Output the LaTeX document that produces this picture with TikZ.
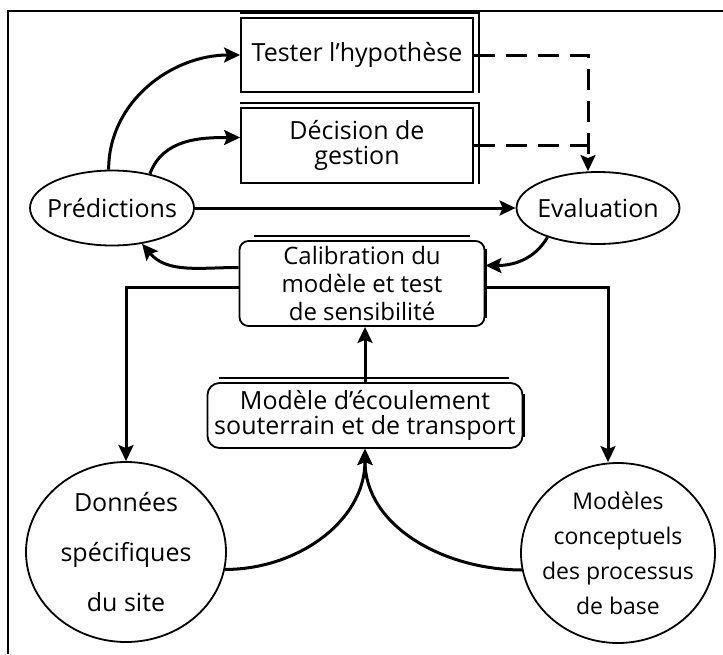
\documentclass[tikz,border=0pt]{standalone}
\usepackage{fontspec}
\setmainfont{Open Sans}
\usetikzlibrary{arrows.meta,shapes.geometric}

\begin{document}
\begin{tikzpicture}[
        x=1pt, y=-1pt,
        >={Stealth[length=16pt, width=15pt, inset=3pt]},
        font=\fontsize{25}{28}\selectfont,
        fleche/.style={->, line width=3pt},
        tiret/.style={line width=3pt, dash pattern=on 21pt off 11pt},
        boite/.style={draw, line width=1.8pt, inner sep=0pt, align=center},
        bulle/.style={draw, ellipse, line width=1.8pt, inner xsep=-40pt, inner ysep=-10pt, align=center}
    ]
    \useasboundingbox (0,0) rectangle (723,654);

    % Cadre
    \draw[line width=1.8pt] (723,11) -- (8,11) -- (8,654);

    % Boites du haut
    \node[boite, minimum width=232pt, minimum height=74pt] (tst) at (357,55) {Tester l'hypothèse};
    \node[boite, minimum width=232pt, minimum height=75pt, font=\fontsize{25}{25}\selectfont] (dec) at (357,145.5) {Décision de\\gestion};

    % Ellipses
    \node[bulle, minimum width=164pt, minimum height=75pt] (pred) at (112,208) {Prédictions};
    \node[bulle, minimum width=163pt, minimum height=72pt] (eval) at (598,208) {Evaluation};

    % Calibration et modele d'ecoulement
    \node[boite, rounded corners=9pt, minimum width=245pt, minimum height=85pt, font=\fontsize{24}{28}\selectfont] (cal) at (362,283.5) {Calibration du\\modèle et test\\de sensibilité};
    \node[boite, rounded corners=12pt, minimum width=315pt, minimum height=65pt, font=\fontsize{25}{25}\selectfont] (ecl) at (365,415.5) {Modèle d'écoulement\\souterrain et de transport};

    % Cercles du bas
    \node[bulle, minimum width=200pt, minimum height=180pt, font=\fontsize{25}{50}\selectfont] (don) at (126,552) {Données\\spécifiques\\du site};
    \node[bulle, minimum width=194pt, minimum height=180pt, font=\fontsize{23}{35}\selectfont] (mcp) at (618,553) {Modèles\\conceptuels\\des processus\\de base};

    % Doubles traits des boites
    \draw[line width=3pt] ([yshift=5pt]tst.north west) -- ([shift={(5pt,5pt)}]tst.north east);
    \draw[line width=1.4pt] ([shift={(5pt,5pt)}]tst.north east) -- ([xshift=5pt]tst.south east);
    \draw[line width=1.4pt] ([yshift=4pt]dec.north west) -- ([shift={(5pt,4pt)}]dec.north east) -- ([xshift=5pt]dec.south east);
    \draw[line width=1.4pt] ([shift={(15pt,4pt)}]cal.north west) -- ([shift={(-15pt,4pt)}]cal.north east);
    \draw[line width=3.5pt] ([yshift=-9pt]cal.north east) -- ([yshift=9pt]cal.south east);
    \draw[line width=1.4pt] ([shift={(12pt,4pt)}]ecl.north west) -- ([shift={(-14pt,4pt)}]ecl.north east);
    \draw[line width=3.5pt] ([yshift=-12pt]ecl.north east) -- ([yshift=12pt]ecl.south east);

    % Fleches
    \draw[fleche] (pred.95) to[out=90, in=180] (tst.west);
    \draw[fleche] (pred.42) to[out=70, in=180] ([yshift=8pt]dec.west);
    \draw[fleche] (pred.east) -- (eval.west);
    \draw[fleche] ([yshift=16pt]cal.west) to[out=180, in=-50] (pred.-50);
    \draw[fleche] (eval.-150) to[out=-120, in=0] ([yshift=18pt]cal.east);
    \draw[fleche] ([yshift=-4pt]cal.west) -| (don.north);
    \coordinate (mtop) at ([xshift=-10pt]mcp.north);
    \draw[fleche] ([yshift=-4pt]cal.east) -| (mtop);
    \draw[fleche] (ecl.north) -- (ecl.north |- cal.south);
    \draw[fleche] (don.-10) to[out=0, in=-90] (ecl.south);
    \draw[fleche] (mcp.190) to[out=180, in=-90] (ecl.south);

    % Traits tiretes vers l'evaluation
    \coordinate (etop) at ([xshift=-10pt]eval.north);
    \coordinate (coude) at (etop |- tst.east);
    \draw[tiret, ->] (tst.east) -- (coude) -- (etop);
    \draw[tiret] (dec.east) -- (dec.east -| coude);

\end{tikzpicture}
\end{document}
